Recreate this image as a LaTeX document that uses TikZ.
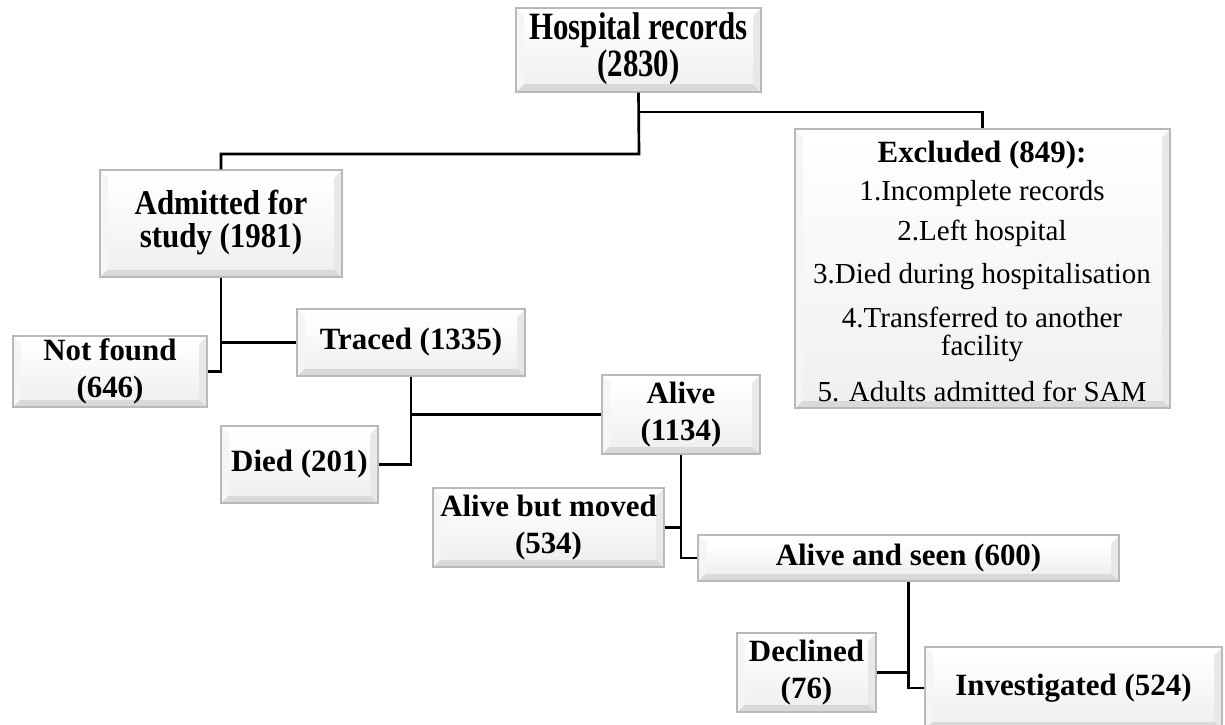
\documentclass[tikz,border=0pt]{standalone}
\usepackage{fontspec}
\setmainfont{Liberation Serif}
\usetikzlibrary{calc}
\newcommand\bigbold{\fontsize{44}{52}\selectfont\bfseries}
\newcommand\listfont{\fontsize{41.3}{40}\selectfont}
\newcommand\tallstack[2]{\scalebox{1}[#1]{\fontsize{44}{40}\selectfont\bfseries\begin{tabular}{@{}c@{}}#2\end{tabular}}}
\tikzset{
  box/.style={draw=gray!55, line width=1.6pt, fill=gray!6, inner sep=0pt, align=center,
    font=\bigbold,
    path picture={
      \coordinate (ppsw) at (path picture bounding box.south west);
      \coordinate (ppne) at (path picture bounding box.north east);
      \coordinate (ppse) at (ppsw -| ppne);
      \coordinate (ppnw) at (ppsw |- ppne);
      \fill[gray!30] (ppsw) -- (ppse) -- ([shift={(-0.4cm,0.4cm)}]ppse) -- ([shift={(0.4cm,0.4cm)}]ppsw) -- cycle;
      \fill[gray!18] (ppse) -- (ppne) -- ([shift={(-0.4cm,-0.4cm)}]ppne) -- ([shift={(-0.4cm,0.4cm)}]ppse) -- cycle;
      \fill[white] (ppnw) -- (ppne) -- ([shift={(-0.4cm,-0.4cm)}]ppne) -- ([shift={(0.4cm,-0.4cm)}]ppnw) -- cycle;
      \fill[gray!8] (ppsw) -- (ppnw) -- ([shift={(0.4cm,-0.4cm)}]ppnw) -- ([shift={(0.4cm,0.4cm)}]ppsw) -- cycle;
      \shade[top color=white, bottom color=gray!12] ([shift={(0.4cm,0.4cm)}]ppsw) rectangle ([shift={(-0.4cm,-0.4cm)}]ppne);
    }},
  conn/.style={line width=3.8pt, black},
  txt/.style={inner sep=0pt, font=\listfont, align=center}
}
\newcommand\flowbox[6]{\node[box, minimum width={(#4-#2)*0.05cm}, minimum height={(#5-#3)*0.05cm}] (#1) at ({(#2+#4)/2},{(#3+#5)/2}) {#6};}
\begin{document}
\begin{tikzpicture}[x=0.05cm, y=-0.05cm]
\useasboundingbox (0,0) rectangle (1225,725);
\flowbox{hosp}{516}{8}{761}{92}{\tallstack{1.25}{Hospital records\\(2830)}}
\flowbox{excl}{795}{129}{1170}{408}{}
\flowbox{adm}{100}{170}{342}{277}{\tallstack{1.12}{Admitted for\\study (1981)}}
\flowbox{nf}{13}{336}{207}{407}{Not found\\(646)}
\flowbox{traced}{297}{309}{525}{376}{Traced (1335)}
\flowbox{died}{221}{426}{378}{503}{Died (201)}
\flowbox{alive}{602}{375}{760}{454}{Alive\\(1134)}
\flowbox{abm}{433}{488}{664}{567}{Alive but moved\\(534)}
\flowbox{aas}{698}{535}{1119}{581}{Alive and seen (600)}
\flowbox{dec}{737}{633}{876}{712}{Declined\\(76)}
\flowbox{inv}{925}{647}{1222}{729}{Investigated (524)}
\node[txt, font=\bigbold] (ex0) at (982,155) {Excluded (849):};
\node[txt] (ex1) at (982,194) {1.Incomplete records};
\node[txt] (ex2) at (982,233) {2.Left hospital};
\node[txt] (ex3) at (982,277) {3.Died during hospitalisation};
\node[txt] (ex4) at (982,334) {4.Transferred to another\\facility};
\node[txt] (ex5) at (982,391) {5. Adults admitted for SAM};
\coordinate (j1) at (639,112);
\coordinate (j2) at (639,154);
\draw[conn] (hosp.south) -- (j2) -| (adm.north);
\draw[conn] (j1) -| (excl.north);
\draw[conn] (adm.south) |- (traced.west);
\draw[conn] (adm.south) |- (nf.east);
\draw[conn] (traced.south) |- (alive.west);
\draw[conn] (traced.south) |- (died.east);
\draw[conn] (alive.south) |- (abm.east);
\draw[conn] (alive.south) |- (aas.west);
\draw[conn] (aas.south) |- (dec.east);
\draw[conn] (aas.south) |- (inv.west);
\end{tikzpicture}
\end{document}
